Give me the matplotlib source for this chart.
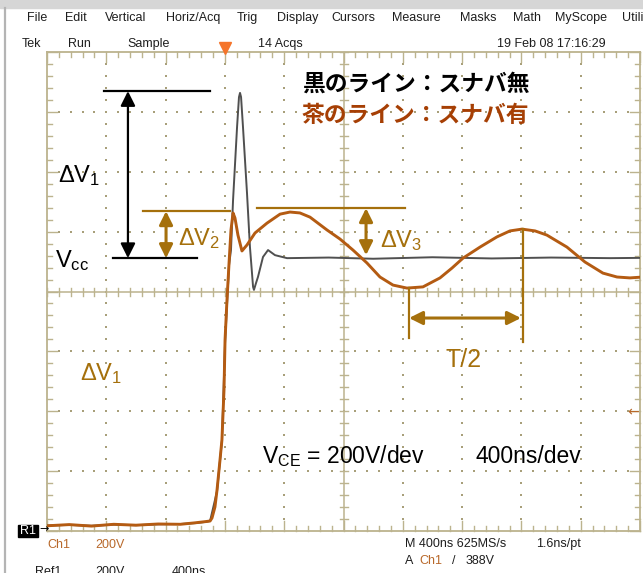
import matplotlib
matplotlib.use('Agg')
import matplotlib.pyplot as plt
from matplotlib.patches import Rectangle

plt.rcParams['mathtext.fontset'] = 'custom'
plt.rcParams['mathtext.rm'] = 'Liberation Sans'
plt.rcParams['mathtext.it'] = 'Liberation Sans'
plt.rcParams['font.family'] = ['Liberation Sans', 'DejaVu Sans']

# brown trace (with snubber): time in ns from trigger, voltage in V
t_brown = [-1200, -1050, -900, -750, -600, -450, -300, -200, -130, -100,
           -87, -67, -53, -33, -20, -6, 1, 14, 28, 41, 55, 68, 88, 115, 149,
           203, 284, 372, 439, 506, 574, 689, 776, 864, 958, 1046, 1134,
           1228, 1336, 1451, 1532, 1606, 1721, 1835, 1923, 2004, 2092,
           2172, 2307, 2429, 2550, 2645, 2732, 2820]
v_brown = [4, 8, 3, 9, 6, 10, 9, 14, 18, 20,
           30, 67, 124, 224, 291, 458, 625, 758, 882, 992, 1049, 1032, 975,
           922, 942, 982, 1015, 1045, 1052, 1049, 1035, 992, 962, 925, 882,
           835, 808, 798, 802, 832, 865, 898, 935, 969, 989, 995, 989, 975,
           935, 885, 848, 835, 832, 835]

# black trace (without snubber)
t_black = [-1200, -1050, -900, -750, -600, -450, -300, -200, -130, -100,
           -53, -20, 1, 28, 41, 55, 82, 95, 102, 109, 122, 149, 169, 190,
           196, 210, 223, 257, 291, 338, 419, 700, 1000, 1400, 1800, 2200,
           2600, 2820]
v_black = [5, 7, 4, 8, 6, 9, 10, 13, 17, 20,
           120, 288, 615, 875, 925, 1092, 1336, 1436, 1450, 1436, 1336,
           1116, 935, 802, 792, 815, 835, 902, 925, 908, 898, 900, 896,
           901, 897, 900, 898, 899]

menu_items = ["File", "Edit", "Vertical", "Horiz/Acq", "Trig", "Display",
              "Cursors", "Measure", "Masks", "Math", "MyScope", "Utilities"]
menu_x = [27, 65, 105, 166, 237, 277, 331, 392, 460, 513, 555, 622]

W, H = 643, 573
fig = plt.figure(figsize=(W / 100, H / 100), dpi=100)
fig.patch.set_facecolor('white')


def fx(x):
    return x / W


def fy(y):
    return 1 - y / H


GL, GR, GT, GB = 47, 640, 52, 531
pos = [fx(GL), fy(GB), (GR - GL) / W, (GB - GT) / H]
DXPX = (GR - GL) / 10.0
DYPX = (GB - GT) / 8.0
GRAT = '#bcb38e'
DOT = '#a89f7a'

# window chrome
fig.patches.append(Rectangle((0, fy(8)), 1, 8 / H, transform=fig.transFigure,
                             color='#d6d6d6', zorder=0))
fig.add_artist(plt.Line2D([fx(5), fx(5)], [0, fy(8)], transform=fig.transFigure,
                          color='#b4b4b4', lw=1.6))

# graticule in division units
g = fig.add_axes(pos)
g.set_xlim(0, 10)
g.set_ylim(0, 8)
g.axis('off')
tx = 1 / DXPX
ty = 1 / DYPX
for yy in [0, 8]:
    g.plot([0, 10], [yy, yy], color=GRAT, lw=1.3, clip_on=False)
for xx in [0, 10]:
    g.plot([xx, xx], [0, 8], color=GRAT, lw=1.3, clip_on=False)
g.plot([5, 5], [0, 8], color=GRAT, lw=1.1)
g.plot([0, 10], [4, 4], color=GRAT, lw=1.1)
for i in range(51):
    x = i * 0.2
    ln = 10 if i % 5 == 0 else 5
    g.plot([x, x], [8, 8 - ln * ty], color=GRAT, lw=1.0, clip_on=False)
    g.plot([x, x], [0, ln * ty], color=GRAT, lw=1.0, clip_on=False)
    g.plot([x, x], [4 - 4 * ty, 4 + 4 * ty], color=GRAT, lw=1.0)
for j in range(41):
    y = j * 0.2
    ln = 10 if j % 5 == 0 else 5
    g.plot([0, ln * tx], [y, y], color=GRAT, lw=1.0, clip_on=False)
    g.plot([10, 10 - ln * tx], [y, y], color=GRAT, lw=1.0, clip_on=False)
    g.plot([5 - 4 * tx, 5 + 4 * tx], [y, y], color=GRAT, lw=1.0)
dx, dy = [], []
for i in [1, 2, 3, 4, 6, 7, 8, 9]:
    for j in range(1, 40):
        dx.append(i)
        dy.append(j * 0.2)
for j in [1, 2, 3, 5, 6, 7]:
    for i in range(1, 50):
        dx.append(i * 0.2)
        dy.append(j)
g.scatter(dx, dy, s=1.8, color=DOT, marker='s', linewidths=0)
# trigger position marker
g.plot([3], [8.06], marker='v', ms=8, color='#f5742a', clip_on=False)

# data axes: ns and V
a = fig.add_axes(pos, facecolor='none')
a.set_xlim(-1200, 2800)
a.set_ylim(-13.4, 1586.6)
a.axis('off')
a.plot(t_black, v_black, color='#505050', lw=1.4, zorder=3)
a.plot(t_brown, v_brown, color='#b45b12', lw=2.1, zorder=4)

BLK = 'black'
ANN = '#a5700c'
LEG = '#a63f04'

# black annotation
a.plot([-815, -101], [1456, 1456], color=BLK, lw=1.6, zorder=5)
a.plot([-755, -188], [898, 898], color=BLK, lw=1.6, zorder=5)
a.annotate('', xy=(-654, 1456), xytext=(-654, 898),
           arrowprops=dict(arrowstyle='<|-|>', color=BLK, lw=1.6,
                           mutation_scale=22, shrinkA=0, shrinkB=0), zorder=5)
# brown annotations
a.plot([-552, 34], [1055, 1055], color=ANN, lw=1.6, zorder=5)
a.plot([216, 1215], [1065, 1065], color=ANN, lw=1.6, zorder=5)
a.annotate('', xy=(-397, 1055), xytext=(-397, 898),
           arrowprops=dict(arrowstyle='<|-|>', color=ANN, lw=2.2,
                           mutation_scale=20, shrinkA=0, shrinkB=0), zorder=5)
a.annotate('', xy=(952, 1065), xytext=(952, 908),
           arrowprops=dict(arrowstyle='<|-|>', color=ANN, lw=2.2,
                           mutation_scale=20, shrinkA=0, shrinkB=0), zorder=5)
a.plot([1242, 1242], [798, 631], color=ANN, lw=1.6, zorder=5)
a.plot([2011, 2011], [995, 618], color=ANN, lw=1.6, zorder=5)
a.annotate('', xy=(1242, 698), xytext=(1997, 698),
           arrowprops=dict(arrowstyle='<|-|>', color=ANN, lw=2.2,
                           mutation_scale=20, shrinkA=0, shrinkB=0), zorder=5)


def ptxt(x, y, s, **kw):
    fig.text(fx(x), fy(y), s, **kw)


big = dict(fontsize=17, va='baseline', ha='left', family='Liberation Sans')
ptxt(58, 182, 'ΔV$_1$', color=BLK, **big)
ptxt(55, 267, 'V$_{\\mathrm{cc}}$', color=BLK, **big)
ptxt(178, 245, 'ΔV$_2$', color=ANN, **big)
ptxt(380, 247, 'ΔV$_3$', color=ANN, **big)
ptxt(80, 380, 'ΔV$_1$', color=ANN, **big)
ptxt(446, 367, 'T/2', color=ANN, fontsize=18, va='baseline', ha='left')
ptxt(262, 463, 'V$_{\\mathrm{CE}}$ = 200V/dev', color=BLK, fontsize=16.5,
     va='baseline', ha='left')
ptxt(475, 463, '400ns/dev', color=BLK, fontsize=16.5, va='baseline', ha='left')

jp = dict(fontsize=16.4, fontweight='bold', va='center', ha='left',
          family=['Noto Sans CJK JP', 'DejaVu Sans'])
ptxt(302, 84, '黒のライン：スナバ無', color=BLK, **jp)
ptxt(302, 115, '茶のライン：スナバ有', color=LEG, **jp)

# scope UI text
ui = dict(fontsize=9, va='center', ha='left',
          family=['Liberation Sans Narrow', 'Liberation Sans'], color='#1e1e1e')
for name, x in zip(menu_items, menu_x):
    ptxt(x, 18, name, **ui)
ptxt(22, 44, 'Tek', **ui)
ptxt(68, 44, 'Run', **ui)
ptxt(127, 44, 'Sample', **ui)
ptxt(258, 44, '14 Acqs', **ui)
ptxt(497, 44, '19 Feb 08 17:16:29', **ui)

CH = '#b8682a'
ui_ch = dict(ui)
ui_ch['color'] = CH
ptxt(47, 545, 'Ch1', **ui_ch)
ptxt(95, 545, '200V', **ui_ch)
ptxt(405, 544, 'M 400ns 625MS/s', **ui)
ptxt(536, 544, '1.6ns/pt', **ui)
ptxt(405, 561, 'A', **ui)
ptxt(419, 561, 'Ch1', **ui_ch)
ptxt(452, 561, '/', **ui)
ptxt(466, 561, '388V', **ui)
ui_ref = dict(ui)
ui_ref['va'] = 'top'
ptxt(35, 566, 'Ref1', **ui_ref)
ptxt(95, 566, '200V', **ui_ref)
ptxt(172, 566, '400ns', **ui_ref)

# R1 reference marker
fig.patches.append(Rectangle((fx(18), fy(537)), 20 / W, 12 / H,
                             transform=fig.transFigure, color='black', zorder=5))
ptxt(20, 531, 'R1', fontsize=9, color='white', va='center', ha='left',
     family=['Liberation Sans Narrow', 'Liberation Sans'], zorder=6)
ptxt(39, 529, '→', fontsize=8, color='black', va='center', ha='left',
     family='DejaVu Sans')
ptxt(627, 412, '←', fontsize=10, color=CH, va='center', ha='left',
     family='DejaVu Sans')

fig.savefig('out.png', dpi=100)
